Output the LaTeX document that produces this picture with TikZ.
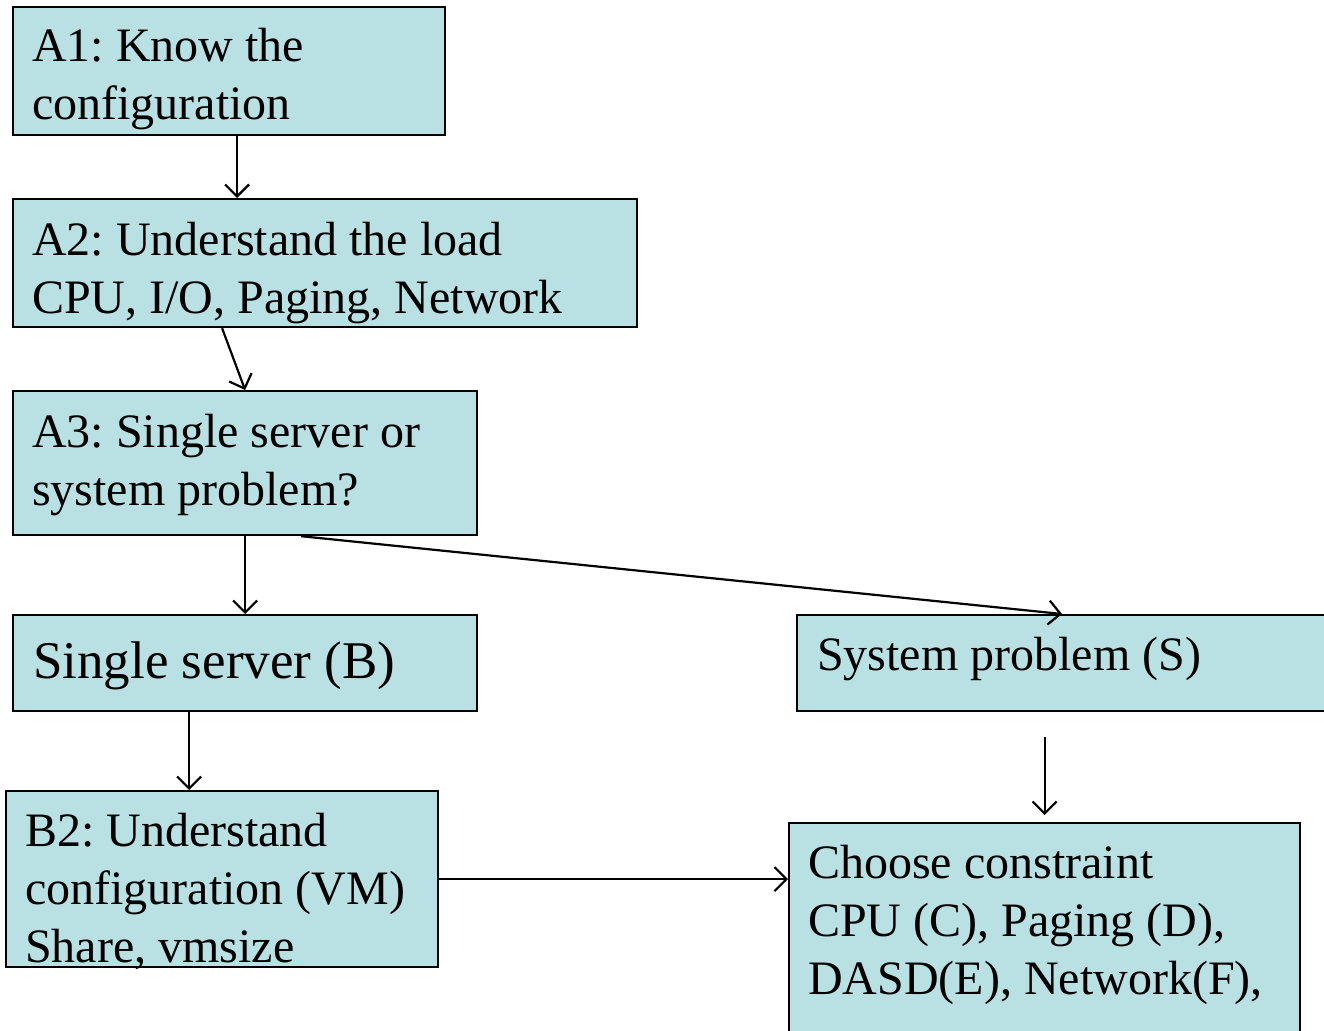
\documentclass[tikz,border=0pt]{standalone}
\usepackage{fontspec}
\setmainfont{Liberation Serif}
\usetikzlibrary{arrows.meta}
\definecolor{boxfill}{HTML}{B9E0E3}
\tikzset{
  box/.style={draw=black, line width=2.2pt, fill=boxfill, anchor=north west, inner sep=0pt},
  txt/.style={anchor=base west, inner sep=0pt, align=left, font=\fontsize{48}{58}\selectfont},
  arr/.style={line width=2.2pt, -{Straight Barb[length=12pt, width=24pt, line width=2.2pt]}}
}
\frenchspacing
\begin{document}
\begin{tikzpicture}[x=1pt, y=-1pt]
  \useasboundingbox (0,0) rectangle (1324,1030);

  % boxes
  \node[box, minimum width=432pt, minimum height=128pt] (a1) at (12,6) {};
  \node[box, minimum width=624pt, minimum height=128pt] (a2) at (12,198) {};
  \node[box, minimum width=464pt, minimum height=144pt] (a3) at (12,390) {};
  \node[box, minimum width=464pt, minimum height=96pt] (b) at (12,614) {};
  \node[box, minimum width=530pt, minimum height=96pt] (s) at (796,614) {};
  \node[box, minimum width=432pt, minimum height=176pt] (b2) at (5,790) {};
  \node[box, minimum width=511pt, minimum height=220pt] (c) at (788,822) {};

  % texts (anchored at the baseline of the last line)
  \node[txt] (a1t) at ([shift={(20,114)}]a1.north west) {A1: Know the\\configuration};
  \node[txt] (a2t) at ([shift={(20,115)}]a2.north west) {A2: Understand the load\\CPU, I/O, Paging, Network};
  \node[txt] (a3t) at ([shift={(20,115)}]a3.north west) {A3: Single server or\\system problem?};
  \node[txt, font=\fontsize{53}{60}\selectfont] (bt) at ([shift={(21,64)}]b.north west) {Single server (B)};
  \node[txt] (st) at ([shift={(21,56)}]s.north west) {System problem (S)};
  \node[txt] (b2t) at ([shift={(20,172)}]b2.north west) {B2: Understand\\configuration (VM)\\Share, vmsize};
  \node[txt] (ct) at ([shift={(20,172)}]c.north west) {Choose constraint\\CPU (C), Paging (D),\\DASD(E), Network(F),};

  % arrows
  \draw[arr] ([xshift=8pt]a1.south) -- ([xshift=8pt]a1.south |- a2.north);
  \draw[arr] ([xshift=-103pt]a2.south) -- (a3.north);
  \draw[arr] (a3.south) -- (b.north);
  \draw[arr] ([xshift=56pt]a3.south) -- (s.north);
  \draw[arr] ([xshift=-56pt]b.south) -- ([xshift=-56pt]b.south |- b2.north);
  \draw[arr] ([yshift=85pt]c.north) -- ([yshift=7pt]c.north);
  \draw[arr] (b2.east) -- (b2.east -| c.west);
\end{tikzpicture}
\end{document}
